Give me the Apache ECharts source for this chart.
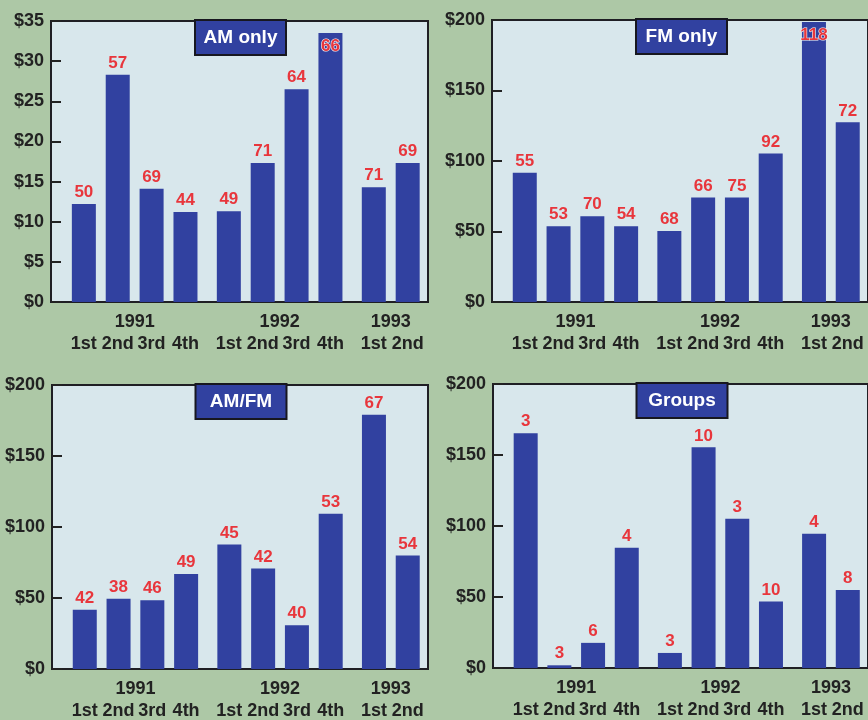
<!DOCTYPE html>
<html>
<head>
<meta charset="utf-8">
<style>
  html, body { margin: 0; padding: 0; background: #adc8a6; }
  #chart { width: 868px; height: 720px; }
</style>
<script src="https://cdn.jsdelivr.net/npm/echarts@6/dist/echarts.min.js"></script>
</head>
<body>
<div id="chart"></div>
<script>
// Quarterly station sales: average price (bars, $ millions) and number of deals (red labels)
const years = ['1991', '1992', '1993'];
const quarters = ['1st', '2nd', '3rd', '4th', '1st', '2nd', '3rd', '4th', '1st', '2nd'];
const yearIndex = [0, 0, 0, 0, 1, 1, 1, 1, 2, 2];

const amOnlyPrice = [12.2, 28.3, 14.1, 11.2, 11.3, 17.3, 26.5, 33.5, 14.3, 17.3];
const amOnlyDeals = [50, 57, 69, 44, 49, 71, 64, 66, 71, 69];

const fmOnlyPrice = [91.7, 53.7, 60.8, 53.7, 50.4, 74.2, 74.2, 105.4, 198.6, 127.4];
const fmOnlyDeals = [55, 53, 70, 54, 68, 66, 75, 92, 118, 72];

const amFmPrice = [41.8, 49.5, 48.4, 66.9, 87.6, 70.7, 30.8, 109.4, 179.1, 80.0];
const amFmDeals = [42, 38, 46, 49, 45, 42, 40, 53, 67, 54];

const groupsPrice = [165.3, 1.9, 17.7, 84.6, 10.6, 155.4, 105.1, 46.8, 94.5, 55.0];
const groupsDeals = [3, 3, 6, 4, 3, 10, 3, 10, 4, 8];

const panels = [
  { title: 'AM only', price: amOnlyPrice, deals: amOnlyDeals, max: 35, step: 5 },
  { title: 'FM only', price: fmOnlyPrice, deals: fmOnlyDeals, max: 200, step: 50 },
  { title: 'AM/FM', price: amFmPrice, deals: amFmDeals, max: 200, step: 50 },
  { title: 'Groups', price: groupsPrice, deals: groupsDeals, max: 200, step: 50 }
];

// panel layout
const boxes = [
  { left: 51, top: 21, width: 377, height: 281 },
  { left: 492, top: 20, width: 377, height: 282 },
  { left: 52, top: 385, width: 376, height: 284 },
  { left: 493, top: 384, width: 376, height: 284 }
];

// slot positions: quarters sit one slot apart, each new year adds a small gap
const YEAR_GAP = 0.28;
const slots = quarters.map((q, i) => +(i + yearIndex[i] * YEAR_GAP).toFixed(2));
const yearSlots = years.map((y, k) => {
  const s = slots.filter((_, i) => yearIndex[i] === k);
  return +((s[0] + s[s.length - 1]) / 2).toFixed(2);
});
const slotMin = -0.97, slotMax = slots[slots.length - 1] + 0.6;

function findIndex(list, v) {
  for (let i = 0; i < list.length; i++) if (Math.abs(list[i] - v) < 1e-6) return i;
  return -1;
}

const NAVY = '#3141a0';
const RED = '#e8363c';
const INK = '#222222';
const LABEL_FONT = '"Liberation Sans", Arial, sans-serif';

const grid = [], xAxis = [], yAxis = [], series = [], graphic = [];

function bottomAxis(g, values, names, margin) {
  return {
    type: 'value', gridIndex: g, position: 'bottom', offset: 0,
    min: slotMin, max: slotMax,
    axisLine: { show: false, onZero: false }, splitLine: { show: false },
    axisTick: { show: false },
    axisLabel: {
      customValues: values, margin, interval: 0, hideOverlap: false,
      showMinLabel: true, showMaxLabel: true,
      color: INK, fontFamily: LABEL_FONT, fontWeight: 'bold', fontSize: 18,
      formatter: v => { const i = findIndex(values, v); return i >= 0 ? names[i] : ''; }
    }
  };
}

panels.forEach((p, g) => {
  const b = boxes[g];
  grid.push({
    left: b.left, top: b.top, width: b.width, height: b.height,
    show: true, backgroundColor: '#d8e7ec', borderColor: '#1f1f24', borderWidth: 2
  });
  xAxis.push(bottomAxis(g, slots, quarters, 33));   // quarter row
  xAxis.push(bottomAxis(g, yearSlots, years, 11));  // year row
  yAxis.push({
    type: 'value', gridIndex: g, position: 'left', min: 0, max: p.max, interval: p.step,
    axisLine: { show: false, onZero: false }, splitLine: { show: false },
    axisTick: { show: true, inside: true, length: 10, lineStyle: { color: INK, width: 2 } },
    axisLabel: {
      margin: 7, color: INK, fontFamily: LABEL_FONT, fontWeight: 'bold', fontSize: 18,
      formatter: v => '$' + v
    }
  });
  series.push({
    type: 'bar', name: p.title,
    xAxisIndex: g * 2, yAxisIndex: g,
    barWidth: 24,
    itemStyle: { color: NAVY },
    label: {
      show: true, position: 'top', distance: 3,
      color: RED, fontFamily: LABEL_FONT, fontWeight: 'bold', fontSize: 17,
      formatter: prm => String(p.deals[prm.dataIndex])
    },
    data: p.price.map((v, i) => {
      const item = { value: [slots[i], v] };
      if (v > p.max * 0.93) {
        item.label = { position: 'insideTop', distance: 5, textBorderColor: '#f4f4f4', textBorderWidth: 1.2 };
      }
      return item;
    })
  });
  const cx = b.left + b.width / 2;
  graphic.push({
    type: 'group', left: cx - 45.5, top: b.top - 2,
    children: [
      { type: 'rect', shape: { x: 0, y: 0, width: 91, height: 35 },
        style: { fill: NAVY, stroke: '#17171f', lineWidth: 2 } },
      { type: 'text', x: 45.5, y: 17.5,
        style: { text: p.title, fill: '#ffffff', align: 'center', verticalAlign: 'middle',
                 font: 'bold 19px "Liberation Sans", Arial, sans-serif' } }
    ]
  });
});

const chart = echarts.init(document.getElementById('chart'), null, { renderer: 'canvas' });
chart.setOption({
  backgroundColor: '#adc8a6',
  animation: false,
  grid, xAxis, yAxis, series, graphic
});
</script>
</body>
</html>
